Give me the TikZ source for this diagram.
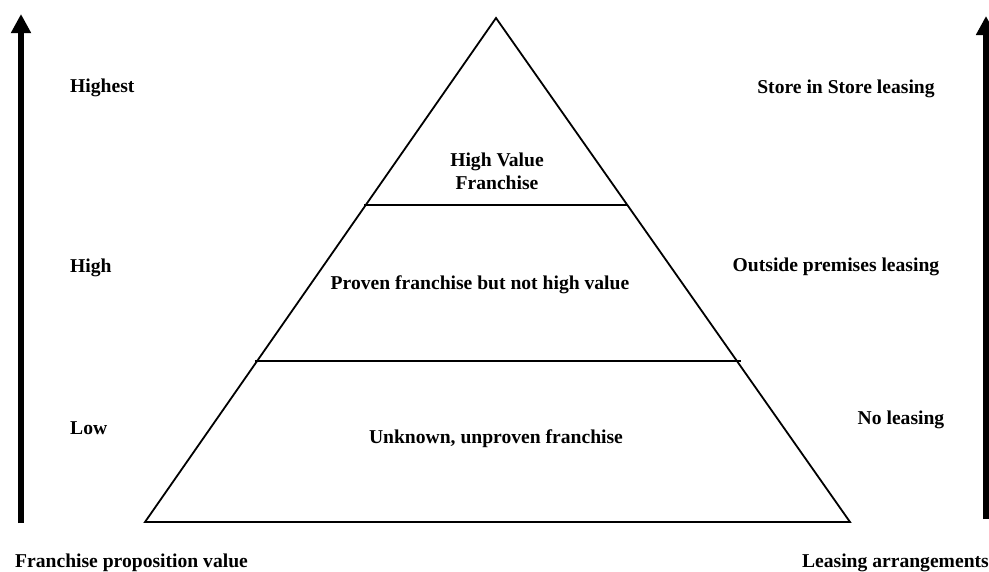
\documentclass[tikz,border=0pt]{standalone}
\usepackage{fontspec}
\setmainfont{Liberation Serif}
\usetikzlibrary{arrows.meta}
\begin{document}
\begin{tikzpicture}[x=1pt,y=-1pt,
  lbl/.style={inner sep=0pt,font=\fontsize{19.6}{22}\selectfont\bfseries},
  axis/.style={line width=5.5pt,-{Triangle[width=19pt,length=19pt]}},
  edge/.style={line width=1.8pt,line join=miter},
  divider/.style={line width=1.4pt}]
\useasboundingbox (0,0) rectangle (989,571);
% pyramid
\coordinate (apex) at (496,18);
\coordinate (bl) at (145,522);
\coordinate (br) at (850,522);
\draw[edge] (bl) -- (apex) -- (br) -- cycle;
\coordinate (d1l) at (364,205);
\coordinate (d1r) at (628,205);
\coordinate (d2l) at (255,361);
\coordinate (d2r) at (741,361);
\draw[divider] (d1l) -- (d1r);
\draw[divider] (d2l) -- (d2r);
% axes
\coordinate (la0) at (21,523);
\coordinate (la1) at (21,14);
\coordinate (ra0) at (986,519);
\coordinate (ra1) at (986,16);
\draw[axis] (la0) -- (la1);
\draw[axis] (ra0) -- (ra1);
% pyramid labels
\node[lbl,anchor=base] (hv1) at (497,166) {High Value};
\node[lbl,anchor=base] (hv2) at (497,189) {Franchise};
\node[lbl,anchor=base] (pf) at (480,289) {Proven franchise but not high value};
\node[lbl,anchor=base] (uf) at (496,443) {Unknown, unproven franchise};
% left labels
\node[lbl,anchor=base west] (l1) at (70,92) {Highest};
\node[lbl,anchor=base west] (l2) at (70,272) {High};
\node[lbl,anchor=base west] (l3) at (70,434) {Low};
\node[lbl,anchor=base west] (lx) at (15,567) {Franchise proposition value};
% right labels
\node[lbl,anchor=base] (r1) at (846,93) {Store in Store leasing};
\node[lbl,anchor=base] (r2) at (836,271) {Outside premises leasing};
\node[lbl,anchor=base] (r3) at (901,424) {No leasing};
\node[lbl,anchor=base east] (rx) at (989,567) {Leasing arrangements};
\end{tikzpicture}
\end{document}
